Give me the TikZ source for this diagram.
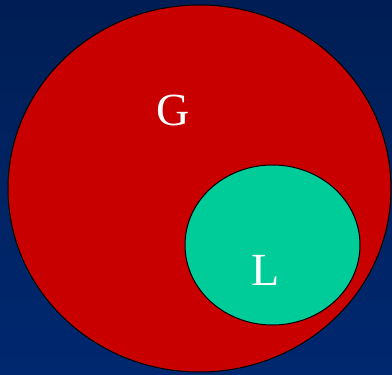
\documentclass[tikz,border=0pt]{standalone}
\usepackage{fontspec}
\setmainfont{Liberation Serif}
\usetikzlibrary{shapes.geometric}
\definecolor{bgtop}{RGB}{0,30,85}
\definecolor{bgbot}{RGB}{0,40,112}
\definecolor{gred}{RGB}{200,0,0}
\definecolor{lgreen}{RGB}{0,204,153}
\tikzset{
  setshape/.style={draw=black, line width=1pt, ellipse, inner sep=0pt},
  setlabel/.style={text=white, font=\fontsize{46}{46}\selectfont, inner sep=0pt}
}
\begin{document}
\begin{tikzpicture}[x=1pt,y=-1pt]
\shade[top color=bgtop, bottom color=bgbot] (0,0) rectangle (392,375);
\useasboundingbox (0,0) rectangle (392,375);
\node[setshape, fill=gred, minimum width=383pt, minimum height=367pt] (G) at (199.5,188.5) {};
\node[setshape, fill=lgreen, minimum width=175pt, minimum height=160pt] (L) at (272.5,245) {};
\node[setlabel] (gl) at (173,110) {G};
\node[setlabel] (ll) at (266,270) {L};
\end{tikzpicture}
\end{document}
